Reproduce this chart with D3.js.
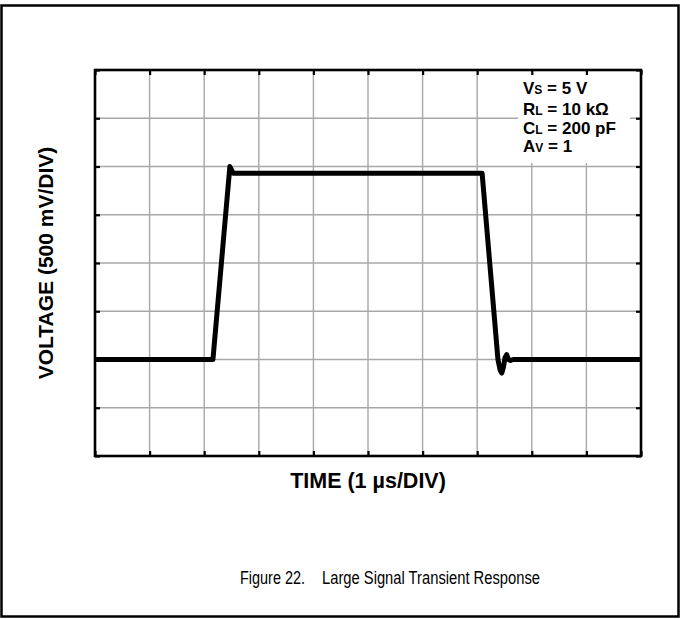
<!DOCTYPE html>
<html>
<head>
<meta charset="utf-8">
<script src="https://cdn.jsdelivr.net/npm/d3@7"></script>
<style>
  html, body { margin: 0; padding: 0; background: #fff; }
  svg { display: block; font-family: "Liberation Sans", Arial, sans-serif; }
</style>
</head>
<body>
<svg id="chart" width="681" height="619"></svg>
<script>
// Output waveform of the buffer: time in microseconds, voltage in volts
const timeUs   = [0, 2.16, 2.47, 2.53, 7.09, 7.38, 7.42, 7.45, 7.48, 7.51, 7.54, 7.57, 7.61, 7.66, 10];
const voltageV = [0, 0,    2.0,  1.93, 1.93, 0,    -0.11, -0.14, -0.08, 0.02, 0.05, 0.0, -0.01, 0, 0];

// Oscilloscope graticule: 10 horizontal and 8 vertical divisions
const timeDivs = d3.range(0, 11);           // 1 µs per division
const voltDivs = d3.range(-1, 3.01, 0.5);   // 500 mV per division

// Test conditions
const conditions = [
  { main: "V", sub: "S", rest: " = 5 V" },
  { main: "R", sub: "L", rest: " = 10 kΩ" },
  { main: "C", sub: "L", rest: " = 200 pF" },
  { main: "A", sub: "V", rest: " = 1" }
];

const svg = d3.select("#chart");
const plot = { left: 95, right: 641, top: 70, bottom: 456 };

const x = d3.scaleLinear().domain([0, 10]).range([plot.left, plot.right]);
const y = d3.scaleLinear().domain([-1, 3]).range([plot.bottom, plot.top]);

// Outer frame
svg.append("rect")
  .attr("x", 1.5).attr("y", 5.5).attr("width", 677).attr("height", 611)
  .attr("fill", "none").attr("stroke", "#000").attr("stroke-width", 2.5);

// Grid lines
const grid = svg.append("g").attr("stroke", "#a8a8a8").attr("stroke-width", 1.4);
grid.selectAll("line.v").data(timeDivs.slice(1, -1)).join("line")
  .attr("x1", d => x(d)).attr("x2", d => x(d))
  .attr("y1", plot.top).attr("y2", plot.bottom);
grid.selectAll("line.h").data(voltDivs.slice(1, -1)).join("line")
  .attr("y1", d => y(d)).attr("y2", d => y(d))
  .attr("x1", plot.left).attr("x2", plot.right);

// Background behind test-condition text
svg.append("rect")
  .attr("x", 518).attr("y", 72).attr("width", 112).attr("height", 91)
  .attr("fill", "#fff");

// Test conditions
const cond = svg.append("g")
  .attr("font-weight", "bold").attr("font-size", 17).attr("fill", "#000");
const condY = [94, 115, 134, 152];
conditions.forEach((c, i) => {
  const t = cond.append("text").attr("x", 523).attr("y", condY[i]);
  t.append("tspan").text(c.main);
  t.append("tspan").attr("font-size", 12).text(c.sub);
  t.append("tspan").text(c.rest);
});

// Inward ticks on all four edges
const tickLen = 5;
const tickOpts = g => g.call(s => s.select(".domain").remove())
  .call(s => s.selectAll("text").remove())
  .call(s => s.selectAll("line").attr("stroke", "#000").attr("stroke-width", 2.2));
svg.append("g").attr("transform", `translate(0,${plot.bottom})`)
  .call(d3.axisTop(x).tickValues(timeDivs).tickSize(tickLen)).call(tickOpts);
svg.append("g").attr("transform", `translate(0,${plot.top})`)
  .call(d3.axisBottom(x).tickValues(timeDivs).tickSize(tickLen)).call(tickOpts);
svg.append("g").attr("transform", `translate(${plot.left},0)`)
  .call(d3.axisRight(y).tickValues(voltDivs).tickSize(tickLen)).call(tickOpts);
svg.append("g").attr("transform", `translate(${plot.right},0)`)
  .call(d3.axisLeft(y).tickValues(voltDivs).tickSize(tickLen)).call(tickOpts);

// Plot border
svg.append("rect")
  .attr("x", plot.left).attr("y", plot.top)
  .attr("width", plot.right - plot.left).attr("height", plot.bottom - plot.top)
  .attr("fill", "none").attr("stroke", "#000").attr("stroke-width", 2.6);

// Waveform
const line = d3.line().x(d => x(d[0])).y(d => y(d[1])).curve(d3.curveLinear);
svg.append("path")
  .datum(d3.zip(timeUs, voltageV))
  .attr("d", line)
  .attr("fill", "none").attr("stroke", "#000")
  .attr("stroke-width", 5).attr("stroke-linejoin", "round").attr("stroke-linecap", "butt");

// Axis titles
svg.append("text")
  .attr("x", (plot.left + plot.right) / 2).attr("y", 488)
  .attr("text-anchor", "middle").attr("font-weight", "bold").attr("font-size", 21.5)
  .text("TIME (1 µs/DIV)");
svg.append("text")
  .attr("transform", `translate(53,${(plot.top + plot.bottom) / 2}) rotate(-90)`)
  .attr("text-anchor", "middle").attr("font-weight", "bold").attr("font-size", 21)
  .text("VOLTAGE (500 mV/DIV)");

// Caption (condensed face)
const capY = 584;
svg.append("text")
  .attr("x", 240).attr("y", capY).attr("font-size", 17.5)
  .attr("textLength", 65).attr("lengthAdjust", "spacingAndGlyphs")
  .text("Figure 22.");
svg.append("text")
  .attr("x", 322).attr("y", capY).attr("font-size", 17.5)
  .attr("textLength", 218).attr("lengthAdjust", "spacingAndGlyphs")
  .text("Large Signal Transient Response");
</script>
</body>
</html>
